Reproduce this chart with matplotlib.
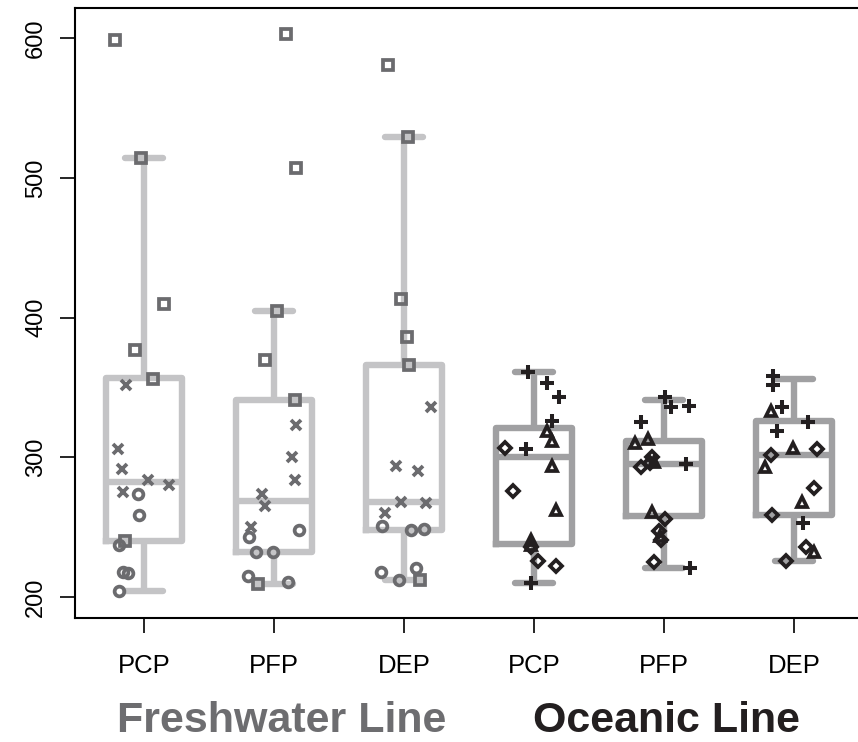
"""Freshwater vs oceanic line: boxplots per stage with jittered points."""
import numpy as np
import matplotlib
matplotlib.use("Agg")
import matplotlib.pyplot as plt

plt.rcParams["font.family"] = ["Liberation Sans", "DejaVu Sans"]

stages = ["PCP", "PFP", "DEP", "PCP", "PFP", "DEP"]
lines = ["Freshwater Line", "Oceanic Line"]

# box summaries
whislo = [204, 209, 212, 210, 221, 226]
q1     = [240, 232, 248, 238, 258, 259]
med    = [282, 269, 268, 300, 295, 302]
q3     = [357, 341, 366, 321, 312, 326]
whishi = [514, 405, 529, 361, 341, 356]

# freshwater points (three marker types per stage), y values and jitter
fw_sq_y = [[599, 514, 410, 377, 356, 240],
           [603, 507, 405, 370, 341, 209],
           [581, 529, 413, 386, 366, 212]]
fw_sq_dx = [[-0.22, -0.02, 0.15, -0.07, 0.07, -0.15],
            [0.09, 0.17, 0.02, -0.07, 0.16, -0.12],
            [-0.12, 0.03, -0.02, 0.02, 0.04, 0.12]]
fw_x_y = [[352, 306, 292, 284, 280, 275],
          [323, 300, 284, 274, 265, 250],
          [336, 294, 290, 268, 267, 260]]
fw_x_dx = [[-0.14, -0.20, -0.17, 0.03, 0.19, -0.16],
           [0.17, 0.14, 0.16, -0.09, -0.07, -0.18],
           [0.21, -0.06, 0.11, -0.02, 0.17, -0.15]]
fw_o_y = [[274, 259, 237, 218, 217, 204],
          [243, 248, 232, 232, 215, 211],
          [251, 248, 249, 218, 212, 221]]
fw_o_dx = [[-0.05, -0.04, -0.19, -0.16, -0.12, -0.19],
           [-0.19, 0.19, -0.14, -0.01, -0.20, 0.11],
           [-0.17, 0.05, 0.15, -0.18, -0.04, 0.09]]

# oceanic points
oc_p_y = [[361, 353, 343, 326, 306, 210],
          [343, 336, 337, 325, 295, 221],
          [358, 352, 336, 325, 319, 253]]
oc_p_dx = [[-0.05, 0.10, 0.19, 0.14, -0.06, -0.02],
           [0.01, 0.05, 0.19, -0.18, 0.17, 0.20],
           [-0.16, -0.16, -0.09, 0.11, -0.13, 0.07]]
oc_t_y = [[319, 312, 294, 262, 241, 237],
          [310, 313, 297, 261, 244],
          [333, 307, 293, 268, 232]]
oc_t_dx = [[0.10, 0.14, 0.14, 0.17, -0.02, -0.02],
           [-0.22, -0.12, -0.08, -0.09, -0.03],
           [-0.18, -0.01, -0.22, 0.06, 0.15]]
oc_d_y = [[307, 276, 236, 226, 222],
          [300, 296, 293, 256, 247, 241, 225],
          [306, 302, 278, 259, 236, 226]]
oc_d_dx = [[-0.22, -0.16, -0.02, 0.03, 0.17],
           [-0.09, -0.11, -0.18, 0.01, -0.04, -0.02, -0.08],
           [0.18, -0.18, 0.15, -0.17, 0.09, -0.06]]

FW_BOX = "#c4c4c6"
OC_BOX = "#a0a0a2"
FW_PT = "#6b6b6e"
OC_PT = "#231f20"

fig = plt.figure(figsize=(8.58, 7.42), dpi=100)
ax = fig.add_axes([0.0874, 0.1671, 0.9126, 0.8219])

pos = np.arange(1, 7)
stats = [dict(whislo=whislo[i], q1=q1[i], med=med[i], q3=q3[i], whishi=whishi[i], fliers=[])
         for i in range(6)]
for i in range(6):
    c = FW_BOX if i < 3 else OC_BOX
    ax.bxp([stats[i]], positions=[pos[i]], widths=0.59, showfliers=False,
           boxprops=dict(color=c, lw=4.6, solid_joinstyle="round"),
           whiskerprops=dict(color=c, lw=4.6, solid_capstyle="butt"),
           capprops=dict(color=c, lw=4.6, solid_capstyle="round"),
           medianprops=dict(color=c, lw=4.6, solid_capstyle="butt"),
           capwidths=0.29, manage_ticks=False)

def pts(g, ys, dxs, marker, color, ms, mew=2.7):
    ax.plot(pos[g] + np.array(dxs), ys, ls="none", marker=marker, ms=ms,
            mfc="none", mec=color, mew=mew, zorder=5)

for k in range(3):
    pts(k, fw_sq_y[k], fw_sq_dx[k], "s", FW_PT, 7.2)
    pts(k, fw_x_y[k], fw_x_dx[k], "x", FW_PT, 7.2)
    pts(k, fw_o_y[k], fw_o_dx[k], "o", FW_PT, 7.0)
    pts(k + 3, oc_p_y[k], oc_p_dx[k], "+", OC_PT, 9.5, 2.9)
    pts(k + 3, oc_t_y[k], oc_t_dx[k], "^", OC_PT, 7.8)
    pts(k + 3, oc_d_y[k], oc_d_dx[k], "D", OC_PT, 6.4)

ax.set_xlim(0.469, 6.492)
ax.set_ylim(185, 621.5)
ax.set_xticks(pos)
ax.set_xticklabels(stages, fontsize=18.5)
ax.set_yticks([200, 300, 400, 500, 600])
ax.set_yticklabels(["200", "300", "400", "500", "600"], fontsize=17,
                   rotation=90, va="center")
ax.tick_params(axis="x", length=11, width=1.2, pad=15)
ax.tick_params(axis="y", length=11, width=1.2, pad=9)
for s in ["left", "bottom", "top"]:
    ax.spines[s].set_linewidth(1.5)
ax.spines["right"].set_visible(False)

tr = matplotlib.transforms.blended_transform_factory(ax.transData, fig.transFigure)
ax.text(2.06, 0.002, lines[0], transform=tr, ha="center", va="bottom",
        fontsize=31, fontweight="bold", color="#6d6d70", clip_on=False)
ax.text(5.02, 0.002, lines[1], transform=tr, ha="center", va="bottom",
        fontsize=31, fontweight="bold", color=OC_PT, clip_on=False)

fig.savefig("out.png", dpi=100)
